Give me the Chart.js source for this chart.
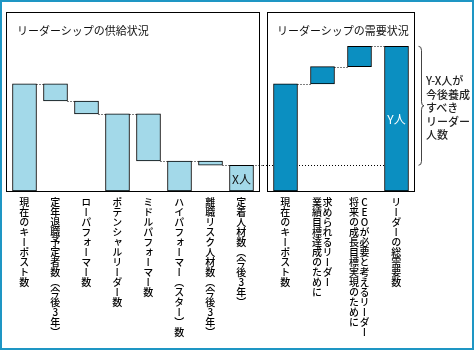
<!DOCTYPE html>
<html><head><meta charset="utf-8">
<script src="https://cdn.jsdelivr.net/npm/chart.js@4/dist/chart.umd.min.js"></script>
<style>
html,body{margin:0;padding:0;background:#fff;width:474px;height:350px;overflow:hidden;}
#frame{position:absolute;left:0;top:0;width:474px;height:350px;box-sizing:border-box;border:2px solid #1e96c4;}
.wrap{position:absolute;top:0;}
.vlabel{position:absolute;top:197px;writing-mode:vertical-rl;text-orientation:upright;font-family:"Noto Sans CJK JP";font-size:10px;font-weight:500;line-height:10.5px;color:#000;white-space:pre;transform:translateX(-50%);}
.title{position:absolute;top:24px;font-family:"Noto Sans CJK JP";font-size:11px;line-height:12px;color:#111;white-space:nowrap;}
#note{position:absolute;left:426px;top:74px;font-family:"Noto Sans CJK JP";font-size:11px;font-weight:500;line-height:13.5px;color:#222;white-space:pre;}
</style></head><body>
<div id="frame"></div>
<div class="wrap" style="left:0;width:263px;height:200px"><canvas id="cL" width="263" height="200"></canvas></div>
<div class="wrap" style="left:263px;width:211px;height:200px"><canvas id="cR" width="211" height="200"></canvas></div>
<div class="title" style="left:17px">リーダーシップの供給状況</div>
<div class="title" style="left:277px">リーダーシップの需要状況</div>
<div id="note">Y-X人が
今後養成
すべき
リーダー
人数</div>
<script>
// ---- data ----
const supplyLabels = ['現在のキーポスト数','定年退職予定者数（今後3年）','ローパフォーマー数','ポテンシャルリーダー数','ミドルパフォーマー数','ハイパフォーマー（スター）数','離職リスク人材数（今後3年）','定着人材数（今後3年）'];
const supplyValues = [100, -16, -12, 72, -44, 28, -4, 24];
const supplyIsTotal = [true, false, false, true, false, true, false, true];
const supplyNotes = ['', '', '', '', '', '', '', 'X人'];

const demandLabels = ['現在のキーポスト数','求められるリーダー\n業績目標達成のために','CEOが必要と考えるリーダー\n将来の成長目標実現のために','リーダーの総需要数'];
const demandValues = [100, 16, 19, 135];
const demandIsTotal = [true, false, false, true];
const demandNotes = ['', '', '', 'Y人'];

const yMax = 167;

// ---- helpers ----
function toRanges(vals, totals){
  let run = 0;
  return vals.map((v,i)=>{
    if (totals[i]) { run = v; return [0, v]; }
    const r = [run, run + v]; run += v; return r;
  });
}
const supplyRanges = toRanges(supplyValues, supplyIsTotal);
const demandRanges = toRanges(demandValues, demandIsTotal);
const retainedValue = supplyRanges[supplyRanges.length-1][1];

function dotted(ctx, x1, x2, py){
  ctx.beginPath(); ctx.moveTo(x1, py); ctx.lineTo(x2, py); ctx.stroke();
}

function makeDeco(opts){
  return {
    id: 'deco',
    beforeDatasetsDraw(chart){
      const ctx = chart.ctx, y = chart.scales.y;
      const bars = chart.getDatasetMeta(0).data, ranges = chart.data.datasets[0].data;
      ctx.save();
      ctx.strokeStyle = '#000'; ctx.lineWidth = 1; ctx.setLineDash([1,2]);
      if (opts.crossIn) {
        const py = Math.round(y.getPixelForValue(retainedValue)) + 0.5;
        const last = bars[bars.length-1];
        dotted(ctx, 0, last.x - last.width/2, py);
      }
      for (let i = 0; i < bars.length-1; i++) {
        const py = Math.round(y.getPixelForValue(ranges[i][1])) + 0.5;
        const x1 = bars[i].x + bars[i].width/2;
        const x2 = (opts.crossOut && i === bars.length-2) ? chart.width : bars[i+1].x - bars[i+1].width/2;
        dotted(ctx, x1, x2, py);
      }
      ctx.restore();
    },
    afterDatasetsDraw(chart){
      const ctx = chart.ctx, a = chart.chartArea, y = chart.scales.y;
      const bars = chart.getDatasetMeta(0).data;
      ctx.save();
      // panel box
      ctx.strokeStyle = '#000'; ctx.lineWidth = 1;
      ctx.strokeRect(a.left - opts.boxPad + 0.5, a.top + 0.5, a.right - a.left + 2*opts.boxPad - 1, a.bottom - a.top);
      // notes inside bars
      ctx.font = '12px "Noto Sans CJK JP"';
      ctx.textAlign = 'center'; ctx.textBaseline = 'middle';
      opts.notes.forEach((t,i)=>{
        if (!t) return;
        const b = bars[i];
        ctx.fillStyle = opts.noteColor;
        ctx.fillText(t, b.x, (b.y + b.base)/2 + 1);
      });
      // brace
      if (opts.brace) {
        const top = y.getPixelForValue(demandRanges[demandRanges.length-1][1]);
        const bot = y.getPixelForValue(retainedValue);
        const mid = (top + bot) / 2;
        const xl = a.right + 3.5, xm = a.right + 6.5, xr = a.right + 9;
        ctx.strokeStyle = '#444'; ctx.lineWidth = 1;
        ctx.beginPath();
        ctx.moveTo(xl, top);
        ctx.quadraticCurveTo(xm, top, xm, top + 4);
        ctx.lineTo(xm, mid - 4);
        ctx.quadraticCurveTo(xm, mid, xr, mid);
        ctx.quadraticCurveTo(xm, mid, xm, mid + 4);
        ctx.lineTo(xm, bot - 4);
        ctx.quadraticCurveTo(xm, bot, xl, bot);
        ctx.stroke();
      }
      ctx.restore();
    }
  };
}

function makeChart(id, labels, ranges, color, padding, decoOpts){
  return new Chart(document.getElementById(id), {
    type: 'bar',
    data: { labels: labels, datasets: [{
      data: ranges, backgroundColor: color, borderColor: '#000', borderWidth: 1,
      borderSkipped: false, barThickness: 24
    }]},
    options: {
      responsive: false, animation: false, events: [],
      layout: { padding: padding },
      plugins: { legend: { display: false }, tooltip: { enabled: false }, title: { display: false } },
      scales: {
        x: { display: false },
        y: { display: false, min: 0, max: yMax }
      }
    },
    plugins: [makeDeco(decoOpts)]
  });
}

const left = makeChart('cL', supplyLabels, supplyRanges, '#a3d9e9',
  { left: 9, right: 6, top: 12, bottom: 9 },
  { boxPad: 3, notes: supplyNotes, noteColor: '#111', crossOut: true });
const right = makeChart('cR', demandLabels, demandRanges, '#0b8fc1',
  { left: 4, right: 59, top: 12, bottom: 9 },
  { boxPad: 0, notes: demandNotes, noteColor: '#fff', crossIn: true, brace: true });

function addLabels(chart, offsetX){
  const bars = chart.getDatasetMeta(0).data;
  chart.data.labels.forEach((t,i)=>{
    const d = document.createElement('div');
    d.className = 'vlabel';
    d.textContent = t;
    d.style.left = (offsetX + bars[i].x - 1) + 'px';
    document.body.appendChild(d);
  });
}
addLabels(left, 0);
addLabels(right, 263);
</script>
</body></html>
